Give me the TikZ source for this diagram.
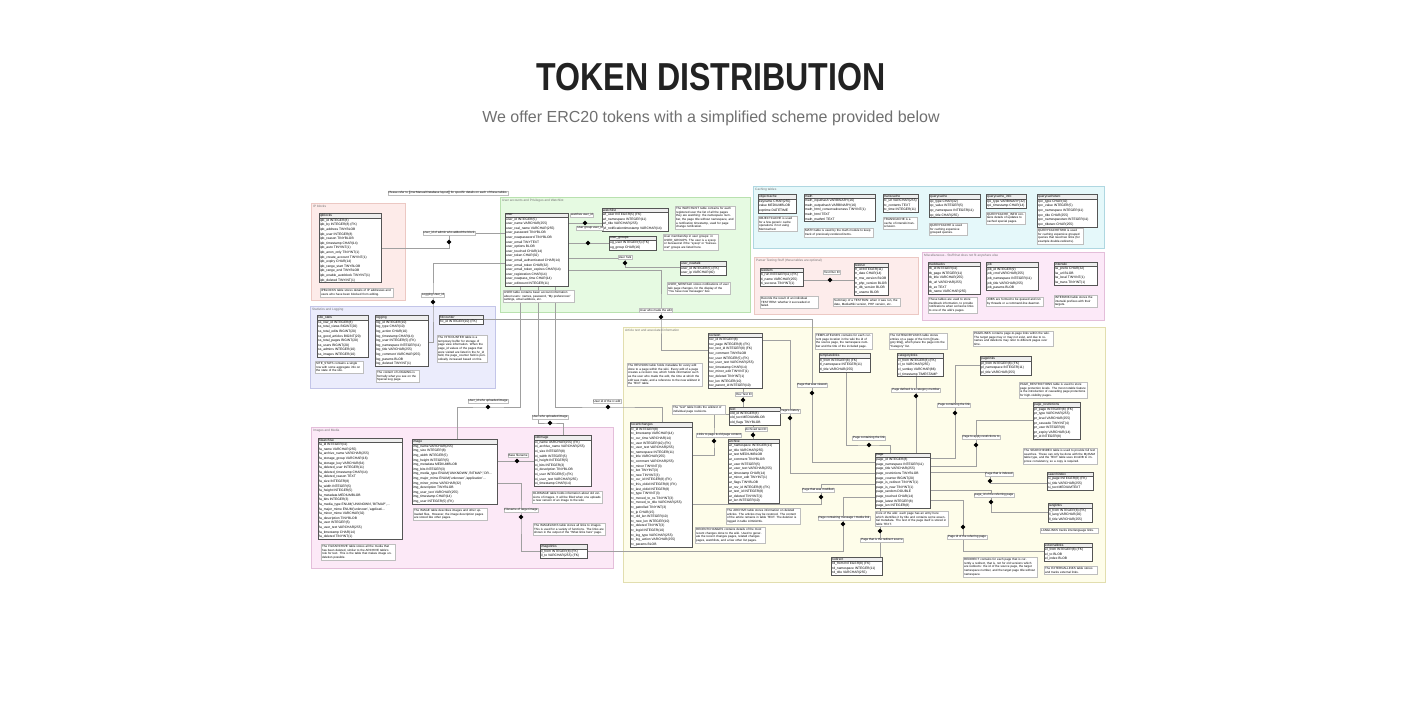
\documentclass[tikz,border=0pt]{standalone}
\usepackage{fontspec}
\setmainfont{Liberation Sans}
\usetikzlibrary{positioning, shapes.multipart, shapes.geometric}
\pgfdeclarelayer{bg}
\pgfsetlayers{bg,main}
\definecolor{titleColor}{RGB}{34,34,34}
\definecolor{subColor}{RGB}{112,112,112}
\definecolor{wireColor}{RGB}{160,160,160}
\definecolor{edgeColor}{RGB}{85,85,85}
\definecolor{noteDraw}{RGB}{190,190,190}
\definecolor{headFill}{RGB}{238,238,238}
\definecolor{ipFill}{RGB}{253,235,233}
\definecolor{ipDraw}{RGB}{236,200,195}
\definecolor{userFill}{RGB}{230,250,226}
\definecolor{userDraw}{RGB}{185,225,175}
\definecolor{cacheFill}{RGB}{229,248,250}
\definecolor{cacheDraw}{RGB}{175,215,225}
\definecolor{testFill}{RGB}{253,236,235}
\definecolor{testDraw}{RGB}{236,200,195}
\definecolor{miscFill}{RGB}{252,233,248}
\definecolor{miscDraw}{RGB}{228,190,218}
\definecolor{statFill}{RGB}{235,236,252}
\definecolor{statDraw}{RGB}{195,197,232}
\definecolor{mediaFill}{RGB}{252,233,247}
\definecolor{mediaDraw}{RGB}{228,190,218}
\definecolor{textFill}{RGB}{254,253,234}
\definecolor{textDraw}{RGB}{226,222,175}

\begin{document}
\begin{tikzpicture}[
        x=1pt, y=-1pt,
        dbtable/.style={
            rectangle split,
            rectangle split parts=2,
            rectangle split part align=left,
            rectangle split part fill={headFill,white},
            draw=edgeColor,
            line width=0.35pt,
            anchor=north west,
            align=left,
            inner xsep=1pt,
            inner ysep=0.7pt,
            font=\fontsize{3.3}{4.6}\selectfont
        },
        notebox/.style={
            draw=noteDraw,
            fill=white,
            line width=0.3pt,
            anchor=north west,
            align=left,
            inner sep=1pt,
            font=\fontsize{3}{3.7}\selectfont
        },
        rellabel/.style={
            draw=noteDraw,
            fill=white,
            line width=0.3pt,
            inner sep=0.7pt,
            font=\fontsize{3}{3.5}\selectfont
        },
        relmark/.style={
            diamond,
            fill=black,
            inner sep=0pt,
            minimum size=5pt
        },
        zone/.style={
            line width=0.4pt
        },
        zonelabel/.style={
            anchor=north west,
            inner sep=1pt,
            text=black!55,
            font=\fontsize{3.2}{4}\selectfont
        },
        wire/.style={
            draw=wireColor,
            line width=0.45pt
        }
    ]

        \begin{pgfonlayer}{bg}
            \fill[white] (0,0) rectangle (1421,715);
        \end{pgfonlayer}
        \useasboundingbox (0,0) rectangle (1421,715);

        \node[font=\fontsize{39}{39}\selectfont\bfseries, text=titleColor, inner sep=0pt, anchor=base] (title) at (711,90.5) {\scalebox{0.824}[1]{TOKEN DISTRIBUTION}};
        \node[font=\fontsize{16}{16}\selectfont, text=subColor, inner sep=0pt, anchor=base] (subtitle) at (711,122) {We offer ERC20 tokens with a simplified scheme provided below};

        \begin{pgfonlayer}{bg}
            \draw[zone, fill=ipFill, draw=ipDraw] (311,203) rectangle (405,300);
            \draw[zone, fill=userFill, draw=userDraw] (500,197) rectangle (750,312);
            \draw[zone, fill=cacheFill, draw=cacheDraw] (753,186) rectangle (1104,248);
            \draw[zone, fill=testFill, draw=testDraw] (754,257) rectangle (918,314);
            \draw[zone, fill=miscFill, draw=miscDraw] (922,252) rectangle (1104,320);
            \draw[zone, fill=statFill, draw=statDraw] (310,306) rectangle (495,388);
            \draw[zone, fill=mediaFill, draw=mediaDraw] (311,427) rectangle (613,568);
            \draw[zone, fill=textFill, draw=textDraw] (623,327) rectangle (1105,582);
        \end{pgfonlayer}

        \node[zonelabel] (zip) at (312,204) {IP blocks};
        \node[zonelabel] (zuser) at (501,198) {User accounts and Privileges and Watchlist};
        \node[zonelabel] (zcache) at (754,187) {Caching tables};
        \node[zonelabel] (ztest) at (755,258) {Parser Testing Stuff (these tables are optional)};
        \node[zonelabel] (zmisc) at (923,253) {Miscellaneous - Stuff that does not fit anywhere else};
        \node[zonelabel] (zstat) at (311,307) {Statistics and Logging};
        \node[zonelabel] (zmedia) at (312,428) {Images and Media};
        \node[zonelabel] (ztext) at (624,328) {Article text and associated information};

        \node[rellabel] (refnote) at (448,193) {Please refer to [[mw:Manual:Database layout]] for specific details on each of these tables.};

        \node[dbtable, minimum width=62pt] (ipblocks) at (319,213) {ipblocks\nodepart{two}ipb\_id INTEGER(8)\\ipb\_by INTEGER(8) (FK)\\ipb\_address TINYBLOB\\ipb\_user INTEGER(8)\\ipb\_reason TINYBLOB\\ipb\_timestamp CHAR(14)\\ipb\_auto TINYINT(1)\\ipb\_anon\_only TINYINT(1)\\ipb\_create\_account TINYINT(1)\\ipb\_expiry CHAR(14)\\ipb\_range\_start TINYBLOB\\ipb\_range\_end TINYBLOB\\ipb\_enable\_autoblock TINYINT(1)\\ipb\_deleted TINYINT(1)};
        \node[dbtable, minimum width=63pt] (user) at (505,213) {user\nodepart{two}user\_id INTEGER(5)\\user\_name VARCHAR(255)\\user\_real\_name VARCHAR(255)\\user\_password TINYBLOB\\user\_newpassword TINYBLOB\\user\_email TINYTEXT\\user\_options BLOB\\user\_touched CHAR(14)\\user\_token CHAR(32)\\user\_email\_authenticated CHAR(14)\\user\_email\_token CHAR(32)\\user\_email\_token\_expires CHAR(14)\\user\_registration CHAR(14)\\user\_newpass\_time CHAR(14)\\user\_editcount INTEGER(11)};
        \node[dbtable, minimum width=66pt] (watchlist) at (602,208) {watchlist\nodepart{two}wl\_user INTEGER(5) (FK)\\wl\_namespace INTEGER(11)\\wl\_title VARCHAR(255)\\wl\_notificationtimestamp VARCHAR(14)};
        \node[dbtable, minimum width=47pt] (usergroups) at (609,236) {user\_groups\nodepart{two}ug\_user INTEGER(5) (FK)\\ug\_group CHAR(16)};
        \node[dbtable, minimum width=46pt] (newtalk) at (680,261) {user\_newtalk\nodepart{two}user\_id INTEGER(5) (FK)\\user\_ip VARCHAR(40)};

        \node[dbtable, minimum width=38pt] (objectcache) at (758,194) {objectcache\nodepart{two}keyname CHAR(255)\\value MEDIUMBLOB\\exptime DATETIME};
        \node[dbtable, minimum width=71pt] (math) at (804,194) {math\nodepart{two}math\_inputhash VARBINARY(16)\\math\_outputhash VARBINARY(16)\\math\_html\_conservativeness TINYINT(1)\\math\_html TEXT\\math\_mathml TEXT};
        \node[dbtable, minimum width=35pt] (transcache) at (883,194) {transcache\nodepart{two}tc\_url VARCHAR(255)\\tc\_contents TEXT\\tc\_time INTEGER(11)};
        \node[dbtable, minimum width=51pt] (querycache) at (929,194) {querycache\nodepart{two}qc\_type CHAR(32)\\qc\_value INTEGER(5)\\qc\_namespace INTEGER(11)\\qc\_title CHAR(255)};
        \node[dbtable, minimum width=40pt] (qcinfo) at (986,194) {querycache\_info\nodepart{two}qci\_type VARBINARY(32)\\qci\_timestamp CHAR(14)};
        \node[dbtable, minimum width=60pt] (qctwo) at (1037,194) {querycachetwo\nodepart{two}qcc\_type CHAR(32)\\qcc\_value INTEGER(5)\\qcc\_namespace INTEGER(11)\\qcc\_title CHAR(255)\\qcc\_namespacetwo INTEGER(11)\\qcc\_titletwo CHAR(255)};

        \node[dbtable, minimum width=43pt] (testitem) at (760,268) {testitem\nodepart{two}ti\_run INTEGER(11) (FK)\\ti\_name VARCHAR(255)\\ti\_success TINYINT(1)};
        \node[dbtable, minimum width=32pt] (testrun) at (854,263) {testrun\nodepart{two}tr\_id INTEGER(11)\\tr\_date CHAR(14)\\tr\_mw\_version BLOB\\tr\_php\_version BLOB\\tr\_db\_version BLOB\\tr\_uname BLOB};

        \node[dbtable, minimum width=52pt] (trackbacks) at (928,262) {trackbacks\nodepart{two}tb\_id INTEGER(11)\\tb\_page INTEGER(11)\\tb\_title VARCHAR(255)\\tb\_url VARCHAR(255)\\tb\_ex TEXT\\tb\_name VARCHAR(255)};
        \node[dbtable, minimum width=52pt] (job) at (986,262) {job\nodepart{two}job\_id INTEGER(9)\\job\_cmd VARCHAR(255)\\job\_namespace INTEGER(11)\\job\_title VARCHAR(255)\\job\_params BLOB};
        \node[dbtable, minimum width=43pt] (interwiki) at (1054,262) {interwiki\nodepart{two}iw\_prefix CHAR(32)\\iw\_url BLOB\\iw\_local TINYINT(1)\\iw\_trans TINYINT(1)};

        \node[dbtable, minimum width=51pt] (sitestats) at (317,315) {site\_stats\nodepart{two}ss\_row\_id INTEGER(8)\\ss\_total\_views BIGINT(20)\\ss\_total\_edits BIGINT(20)\\ss\_good\_articles BIGINT(20)\\ss\_total\_pages BIGINT(20)\\ss\_users BIGINT(20)\\ss\_admins INTEGER(10)\\ss\_images INTEGER(10)};
        \node[dbtable, minimum width=53pt] (logging) at (375,315) {logging\nodepart{two}log\_id INTEGER(10)\\log\_type CHAR(10)\\log\_action CHAR(10)\\log\_timestamp CHAR(14)\\log\_user INTEGER(5) (FK)\\log\_namespace INTEGER(11)\\log\_title VARCHAR(255)\\log\_comment VARCHAR(255)\\log\_params BLOB\\log\_deleted TINYINT(1)};
        \node[dbtable, minimum width=44pt] (hitcounter) at (439,315) {hitcounter\nodepart{two}hc\_id INTEGER(10) (FK)};

        \node[dbtable, minimum width=84pt] (filearchive) at (318,438) {filearchive\nodepart{two}fa\_id INTEGER(11)\\fa\_name VARCHAR(255)\\fa\_archive\_name VARCHAR(255)\\fa\_storage\_group VARCHAR(16)\\fa\_storage\_key VARCHAR(64)\\fa\_deleted\_user INTEGER(11)\\fa\_deleted\_timestamp CHAR(14)\\fa\_deleted\_reason TEXT\\fa\_size INTEGER(8)\\fa\_width INTEGER(5)\\fa\_height INTEGER(5)\\fa\_metadata MEDIUMBLOB\\fa\_bits INTEGER(3)\\fa\_media\_type ENUM('UNKNOWN','BITMAP',...\\fa\_major\_mime ENUM('unknown','applicati...\\fa\_minor\_mime VARCHAR(32)\\fa\_description TINYBLOB\\fa\_user INTEGER(5)\\fa\_user\_text VARCHAR(255)\\fa\_timestamp CHAR(14)\\fa\_deleted TINYINT(1)};
        \node[dbtable, minimum width=85pt] (image) at (412,439) {image\nodepart{two}img\_name VARCHAR(255)\\img\_size INTEGER(8)\\img\_width INTEGER(5)\\img\_height INTEGER(5)\\img\_metadata MEDIUMBLOB\\img\_bits INTEGER(3)\\img\_media\_type ENUM('UNKNOWN','BITMAP','DR...\\img\_major\_mime ENUM('unknown','application'...\\img\_minor\_mime VARCHAR(32)\\img\_description TINYBLOB\\img\_user\_text VARCHAR(255)\\img\_timestamp CHAR(14)\\img\_user INTEGER(5) (FK)};
        \node[dbtable, minimum width=57pt] (oldimage) at (534,435) {oldimage\nodepart{two}oi\_name VARCHAR(255) (FK)\\oi\_archive\_name VARCHAR(255)\\oi\_size INTEGER(8)\\oi\_width INTEGER(5)\\oi\_height INTEGER(5)\\oi\_bits INTEGER(3)\\oi\_description TINYBLOB\\oi\_user INTEGER(5) (FK)\\oi\_user\_text VARCHAR(255)\\oi\_timestamp CHAR(14)};
        \node[dbtable, minimum width=47pt] (imagelinks) at (540,544) {imagelinks\nodepart{two}il\_from INTEGER(8) (FK)\\il\_to VARCHAR(255) (FK)};

        \node[dbtable, minimum width=54pt] (revision) at (708,333) {revision\nodepart{two}rev\_id INTEGER(8)\\rev\_page INTEGER(8) (FK)\\rev\_text\_id INTEGER(8) (FK)\\rev\_comment TINYBLOB\\rev\_user INTEGER(5) (FK)\\rev\_user\_text VARCHAR(255)\\rev\_timestamp CHAR(14)\\rev\_minor\_edit TINYINT(1)\\rev\_deleted TINYINT(1)\\rev\_len INTEGER(10)\\rev\_parent\_id INTEGER(10)};
        \node[dbtable, minimum width=51pt] (text) at (729,407) {text\nodepart{two}old\_id INTEGER(8)\\old\_text MEDIUMBLOB\\old\_flags TINYBLOB};
        \node[dbtable, minimum width=51pt] (templatelinks) at (819,353) {templatelinks\nodepart{two}tl\_from INTEGER(8) (FK)\\tl\_namespace INTEGER(11)\\tl\_title VARCHAR(255)};
        \node[dbtable, minimum width=46pt] (categorylinks) at (897,353) {categorylinks\nodepart{two}cl\_from INTEGER(8) (FK)\\cl\_to VARCHAR(255)\\cl\_sortkey VARCHAR(86)\\cl\_timestamp TIMESTAMP};
        \node[dbtable, minimum width=51pt] (pagelinks) at (980,356) {pagelinks\nodepart{two}pl\_from INTEGER(8) (FK)\\pl\_namespace INTEGER(11)\\pl\_title VARCHAR(255)};
        \node[dbtable, minimum width=47pt] (restrictions) at (1033,402) {page\_restrictions\nodepart{two}pr\_page INTEGER(8) (FK)\\pr\_type VARCHAR(255)\\pr\_level VARCHAR(255)\\pr\_cascade TINYINT(4)\\pr\_user INTEGER(8)\\pr\_expiry VARCHAR(14)\\pr\_id INTEGER(8)};
        \node[dbtable, minimum width=62pt] (rc) at (630,422) {recentchanges\nodepart{two}rc\_id INTEGER(8)\\rc\_timestamp VARCHAR(14)\\rc\_cur\_time VARCHAR(14)\\rc\_user INTEGER(10) (FK)\\rc\_user\_text VARCHAR(255)\\rc\_namespace INTEGER(11)\\rc\_title VARCHAR(255)\\rc\_comment VARCHAR(255)\\rc\_minor TINYINT(3)\\rc\_bot TINYINT(3)\\rc\_new TINYINT(3)\\rc\_cur\_id INTEGER(8) (FK)\\rc\_this\_oldid INTEGER(8) (FK)\\rc\_last\_oldid INTEGER(8)\\rc\_type TINYINT(3)\\rc\_moved\_to\_ns TINYINT(3)\\rc\_moved\_to\_title VARCHAR(255)\\rc\_patrolled TINYINT(3)\\rc\_ip CHAR(15)\\rc\_old\_len INTEGER(10)\\rc\_new\_len INTEGER(10)\\rc\_deleted TINYINT(3)\\rc\_logid INTEGER(10)\\rc\_log\_type VARCHAR(255)\\rc\_log\_action VARCHAR(255)\\rc\_params BLOB};
        \node[dbtable, minimum width=51pt] (archive) at (728,439) {archive\nodepart{two}ar\_namespace INTEGER(11)\\ar\_title VARCHAR(255)\\ar\_text MEDIUMBLOB\\ar\_comment TINYBLOB\\ar\_user INTEGER(5)\\ar\_user\_text VARCHAR(255)\\ar\_timestamp CHAR(14)\\ar\_minor\_edit TINYINT(1)\\ar\_flags TINYBLOB\\ar\_rev\_id INTEGER(8) (FK)\\ar\_text\_id INTEGER(8)\\ar\_deleted TINYINT(1)\\ar\_len INTEGER(10)};
        \node[dbtable, minimum width=55pt] (page) at (875,453) {page\nodepart{two}page\_id INTEGER(8)\\page\_namespace INTEGER(11)\\page\_title VARCHAR(255)\\page\_restrictions TINYBLOB\\page\_counter BIGINT(20)\\page\_is\_redirect TINYINT(1)\\page\_is\_new TINYINT(1)\\page\_random DOUBLE\\page\_touched CHAR(14)\\page\_latest INTEGER(8)\\page\_len INTEGER(8)};
        \node[dbtable, minimum width=46pt] (searchindex) at (1047,472) {searchindex\nodepart{two}si\_page INTEGER(8) (FK)\\si\_title VARCHAR(255)\\si\_text MEDIUMTEXT};
        \node[dbtable, minimum width=44pt] (langlinks) at (1048,503) {langlinks\nodepart{two}ll\_from INTEGER(8) (FK)\\ll\_lang VARCHAR(20)\\ll\_title VARCHAR(255)};
        \node[dbtable, minimum width=48pt] (externallinks) at (1044,543) {externallinks\nodepart{two}el\_from INTEGER(8) (FK)\\el\_to BLOB\\el\_index BLOB};
        \node[dbtable, minimum width=51pt] (redirect) at (831,557) {redirect\nodepart{two}rd\_from INTEGER(8) (FK)\\rd\_namespace INTEGER(11)\\rd\_title VARCHAR(255)};

        \node[notebox, text width=71pt] (nipb) at (320,288) {IPBLOCKS table stores details of IP addresses and users who have been blocked from editing.};
        \node[notebox, text width=69pt] (nuser) at (503,290) {USER table contains basic account information about users: names, password, ``My preferences'' settings, email address, etc.};
        \node[notebox, text width=58pt] (nwatch) at (675,206) {The WATCHLIST table contains for each registered user the list of all the pages they are watching: the namespace number, the page title without namespace, and a notification timestamp, used for page change notification.};
        \node[notebox, text width=53pt] (nug) at (663,234) {User membership in user groups: in USER\_GROUPS. The user is a sysop or bureaucrat if the ``sysop'' or ``bureaucrat'' groups are listed here.};
        \node[notebox, text width=61pt] (nnewtalk) at (667,282) {USER\_NEWTALK stores notifications of user talk page changes, for the display of the ``You have new messages'' box.};
        \node[notebox, text width=37pt] (nobjc) at (758,216) {OBJECTCACHE is used for a few generic cache operations if not using Memcached.};
        \node[notebox, text width=67pt] (nmath) at (804,228) {MATH table is used by the math module to keep track of previously-rendered items.};
        \node[notebox, text width=32pt] (ntc) at (883,217) {TRANSCACHE is a cache of interwiki transclusion.};
        \node[notebox, text width=36pt] (nqc) at (929,223) {QUERYCACHE is used for caching expensive grouped queries.};
        \node[notebox, text width=37pt] (nqci) at (986,212) {QUERYCACHE\_INFO contains details of updates to cached special pages.};
        \node[notebox, text width=44pt] (nqctwo) at (1037,228) {QUERYCACHETWO is used for caching expensive grouped queries that need two links (for example double-redirects).};
        \node[notebox, text width=56pt] (nti) at (760,296) {Records the result of an individual TESTITEM: whether it succeeded or failed.};
        \node[notebox, text width=65pt] (ntr) at (833,298) {Summary of a TESTRUN: when it was run, the date, MediaWiki version, PHP version, etc.};
        \node[notebox, text width=47pt] (ntb) at (928,297) {These tables are used to store trackback information, to provide notifications when someone links to one of the wiki's pages.};
        \node[notebox, text width=55pt] (njob) at (986,297) {JOBS are formed to be queued and run by threads or a command-line daemon.};
        \node[notebox, text width=41pt] (niw) at (1054,295) {INTERWIKI table stores the interwiki prefixes with their targets.};
        \node[notebox, text width=46pt] (nss) at (315,361) {SITE\_STATS contains a single row with some aggregate info on the state of the site.};
        \node[notebox, text width=41pt] (nlog) at (376,370) {The content of LOGGING is formally what you see on the Special:Log page.};
        \node[notebox, text width=48pt] (nhc) at (437,335) {The HITCOUNTER table is a temporary buffer for storage of page view information. When the page\_id values of the pages that were visited are listed in the hc\_id field, the page\_counter field is periodically increased based on this.};
        \node[notebox, text width=72pt] (nfa) at (321,544) {The FILEARCHIVE table stores all the media that has been deleted, similar to the ARCHIVE table's role for text. This is the table that makes image undeletion possible.};
        \node[notebox, text width=72pt] (nimg) at (413,508) {The IMAGE table describes images and other uploaded files. However, the image description pages are stored like other pages.};
        \node[notebox, text width=68pt] (noi) at (532,491) {OLDIMAGE table holds information about old versions of images. It will be filled when one uploads a new version of an image to the wiki.};
        \node[notebox, text width=70pt] (nil) at (533,523) {The IMAGELINKS table stores all links to images. This is used for a variety of functions. The links are shown in the output of the ``What links here'' page.};
        \node[notebox, text width=73pt] (nrev) at (627,363) {The REVISION table holds metadata for every edit done to a page within the wiki. Every edit of a page creates a revision row, which holds information such as the user who made the edit, the time at which the edit was made, and a reference to the new wikitext in the TEXT table.};
        \node[notebox, text width=51pt] (ntext) at (672,405) {The ``text'' table holds the wikitext of individual page revisions.};
        \node[notebox, text width=72pt] (narch) at (726,508) {The ARCHIVE table stores information on deleted articles. The articles may be restored. The content of the article remains in table TEXT. The deletion is logged in table LOGGING.};
        \node[notebox, text width=68pt] (nrc) at (695,527) {RECENTCHANGES contains details of the most recent changes done to the wiki. Used to generate the recent changes pages, related changes pages, watchlists, and a few other list pages.};
        \node[notebox, text width=55pt] (ntl) at (815,333) {TEMPLATELINKS contains for each current page location in the wiki the id of the source page, the namespace number and the title of the included page.};
        \node[notebox, text width=56pt] (ncl) at (889,333) {The CATEGORYLINKS table stores entries on a page of the form [[Category:title]], which place the page into the ``Category'' list.};
        \node[notebox, text width=78pt] (npl) at (973,331) {PAGELINKS contains page-to-page links within the wiki. The target page may or may not exist, and due to renames and deletions may refer to different pages over time.};
        \node[notebox, text width=66pt] (npr) at (1019,382) {PAGE\_RESTRICTIONS table is used to store page protection levels. The most notable feature is the introduction of cascading page protections for high-visibility pages.};
        \node[notebox, text width=72pt] (nsi) at (1023,448) {The SEARCHINDEX table is used to provide full text searches. These can only be done with the MyISAM table type, and the TEXT table uses InnoDB to improve consistency, so a copy is required.};
        \node[notebox, text width=71pt] (npage) at (875,511) {Core of the wiki: each page has an entry here which identifies it by title and contains some essential metadata. The text of the page itself is stored in table TEXT.};
        \node[notebox, text width=72pt] (nrd) at (963,557) {REDIRECT contains for each page that is currently a redirect, that is, not for old versions which are redirects: the id of the source page, the target namespace number, and the target page title without namespace.};
        \node[notebox, text width=56pt] (nll) at (1040,528) {LANGLINKS tracks interlanguage links.};
        \node[notebox, text width=51pt] (nel) at (1044,566) {The EXTERNALLINKS table stores and tracks external links.};

        \node[rellabel] (l1) at (449,233) {User\_id of admin who added the block};
        \node[rellabel] (l2) at (433,295) {Logging User\_id};
        \node[rellabel] (l3) at (582,215) {watches user\_id};
        \node[rellabel] (l4) at (590,228) {User group user\_id};
        \node[rellabel] (l5) at (625,257) {User Talk};
        \node[rellabel] (l6) at (656,310) {User who made the edit};
        \node[rellabel] (l7) at (488,401) {User\_id who uploaded image};
        \node[rellabel] (l8) at (550,417) {User who uploaded image};
        \node[rellabel] (l9) at (607,401) {User id of the rc edit};
        \node[rellabel] (l10) at (812,385) {Page that was viewed};
        \node[rellabel] (l11) at (790,411) {Page's history};
        \node[rellabel] (l12) at (744,394) {Rev Text ID};
        \node[rellabel] (l13) at (756,429) {Archived text ID};
        \node[rellabel] (l14) at (719,435) {Links to page \& old page content};
        \node[rellabel] (l15) at (818,490) {Page that was modified};
        \node[rellabel] (l16) at (844,518) {Page containing message / media link};
        \node[rellabel] (l17) at (869,438) {Page containing the link};
        \node[rellabel] (l18) at (916,390) {Page defined is a category member};
        \node[rellabel] (l19) at (954,405) {Page containing the link};
        \node[rellabel] (l20) at (981,437) {Page to apply restrictions to};
        \node[rellabel] (l21) at (999,474) {Page that is indexed};
        \node[rellabel] (l22) at (994,495) {page\_id of the referring page};
        \node[rellabel] (l23) at (967,537) {Page id of the referring page};
        \node[rellabel] (l24) at (882,540) {Page that is the redirect source};
        \node[rellabel] (l25) at (832,272) {Test Run ID};
        \node[rellabel] (l26) at (518,455) {Base filename};
        \node[rellabel] (l27) at (521,510) {Filename of target image};

        \node[relmark] (m1) at (449,242) {};
        \node[relmark] (m2) at (433,302) {};
        \node[relmark] (m3) at (585,223) {};
        \node[relmark] (m4) at (588,243) {};
        \node[relmark] (m5) at (625,263) {};
        \node[relmark] (m6) at (661,317) {};
        \node[relmark] (m7) at (488,407) {};
        \node[relmark] (m8) at (550,423) {};
        \node[relmark] (m9) at (608,407) {};
        \node[relmark] (m10) at (812,393) {};
        \node[relmark] (m11) at (790,418) {};
        \node[relmark] (m12) at (743,400) {};
        \node[relmark] (m13) at (753,435) {};
        \node[relmark] (m14) at (714,441) {};
        \node[relmark] (m15) at (821,497) {};
        \node[relmark] (m16) at (843,524) {};
        \node[relmark] (m17) at (869,445) {};
        \node[relmark] (m18) at (916,396) {};
        \node[relmark] (m19) at (955,413) {};
        \node[relmark] (m20) at (976,445) {};
        \node[relmark] (m21) at (990,481) {};
        \node[relmark] (m22) at (991,502) {};
        \node[relmark] (m23) at (963,527) {};
        \node[relmark] (m24) at (880,531) {};
        \node[relmark] (m25) at (830,280) {};
        \node[relmark] (m26) at (517,461) {};
        \node[relmark] (m27) at (521,517) {};

        \begin{pgfonlayer}{bg}
            \draw[wire] (ipblocks.east |- 0,248) -| (l1.center) -- (user.west |- l1.center);
            \draw[wire] (user.west |- 0,263) -| (m2.center) |- (logging.east |- 0,342);
            \draw[wire] (user.east |- m3.center) -- (watchlist.west |- m3.center);
            \draw[wire] (user.east |- m4.center) -- (usergroups.west |- m4.center);
            \draw[wire] (user.east |- 0,258) -| (m5.center) |- (newtalk.west |- 0,267);
            \draw[wire] (user.east |- 0,270) -| (m6.center) |- (revision.west |- 0,350);
            \draw[wire] (user.south -| 520,0) |- (m7.center) -| (image.north -| 457,0);
            \draw[wire] (user.south -| 538,0) |- (m8.center) -| (oldimage.north -| 563,0);
            \draw[wire] (user.south -| 555,0) |- (m9.center) -| (rc.north -| 662,0);
            \draw[wire] (hitcounter.east) -| (m10.center) |- (page.west |- 0,462);
            \draw[wire] (revision.east |- 0,340) -| (m11.center) |- (page.west |- 0,473);
            \draw[wire] (revision.south -| m12.center) -- (text.north -| m12.center);
            \draw[wire] (text.south -| m13.center) -- (archive.north -| m13.center);
            \draw[wire] (rc.east |- 0,455) -| (m14.center) |- (text.west |- 0,414);
            \draw[wire] (rc.east |- 0,504) -| (m15.center) |- (page.west |- 0,484);
            \draw[wire] (imagelinks.east) -| (m16.center) |- (page.west |- 0,497);
            \draw[wire] (templatelinks.south -| 846,0) |- (m17.center) -| (page.north -| 890,0);
            \draw[wire] (categorylinks.south -| m18.center) -- (page.north -| m18.center);
            \draw[wire] (pagelinks.west |- 0,365) -| (m19.center) |- (page.east |- 0,458);
            \draw[wire] (restrictions.west |- 0,420) -| (m20.center) |- (page.east |- 0,466);
            \draw[wire] (page.east |- 0,472) -| (m21.center) |- (searchindex.west |- 0,483);
            \draw[wire] (page.east |- 0,490) -| (m22.center) |- (langlinks.west |- 0,512);
            \draw[wire] (page.east |- 0,500) -| (m23.center) |- (externallinks.west |- 0,551);
            \draw[wire] (page.south -| m24.center) -- (redirect.north -| m24.center);
            \draw[wire] (testitem.east |- m25.center) -- (testrun.west |- m25.center);
            \draw[wire] (image.east |- m26.center) -- (oldimage.west |- m26.center);
            \draw[wire] (image.east |- 0,483) -| (m27.center) |- (imagelinks.west);
        \end{pgfonlayer}

    \end{tikzpicture}
\end{document}
